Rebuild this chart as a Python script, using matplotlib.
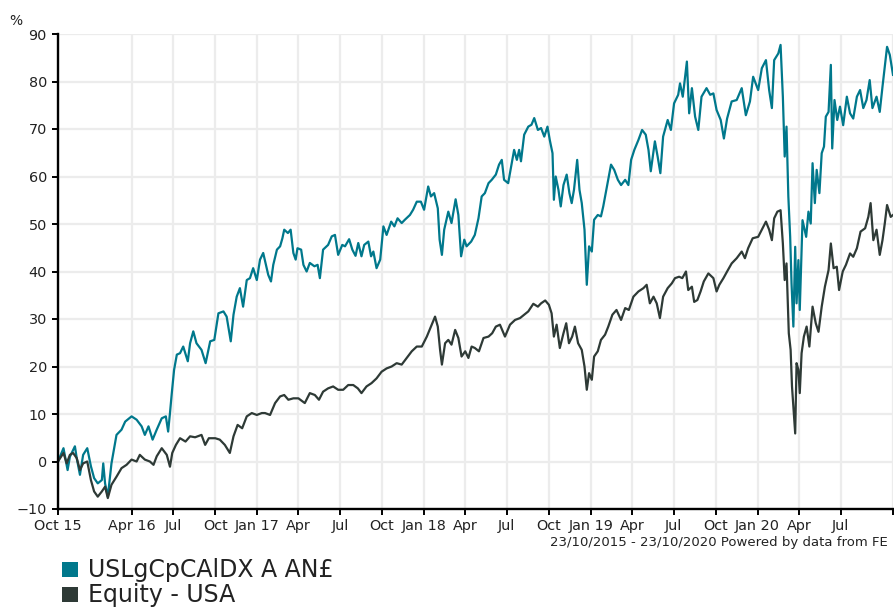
import numpy as np
import matplotlib
matplotlib.use('Agg')
import matplotlib.pyplot as plt
import matplotlib.dates as mdates
from matplotlib.patches import Rectangle

# data: days since 23/10/2015 and cumulative % growth
start = np.datetime64('2015-10-23')
end = np.datetime64('2020-10-23')

series_names = ['USLgCpCAlDX A AN£', 'Equity - USA']
series_colors = ['#00788c', '#2e3a36']

fund_days = [0, 12, 21, 26, 37, 41, 48, 55, 64, 72, 79, 87, 96, 99, 103, 109, 117, 128, 139, 147,
             161, 172, 183, 190, 198, 207, 216, 227, 236, 241, 245, 249, 254, 260, 267, 274, 284, 289,
             296, 303, 314, 323, 333, 342, 351, 362, 369, 378, 384, 391, 398, 405, 413, 420, 427, 435,
             442, 449,
             460, 466, 471, 479, 486, 491, 495, 503, 509, 515, 520, 524, 532, 537, 544, 551, 561, 568,
             573, 580, 591, 599, 606, 613, 622, 628, 637, 644, 651, 657, 664, 670, 679, 685, 690, 697,
             705, 712, 719, 729, 736, 743, 752, 759, 770, 777, 785, 794, 801, 810, 816, 823, 831, 835,
             840, 845, 854, 861, 870, 876, 882, 889, 894, 904,
             912, 920, 927, 934, 942, 949, 958, 965, 971, 976, 985, 991, 998, 1004, 1009, 1013, 1020,
             1029, 1036, 1042, 1050, 1057, 1064, 1071, 1076, 1082, 1085, 1089, 1095, 1100, 1106, 1113,
             1119, 1124, 1129, 1136, 1141, 1146, 1152, 1157, 1162, 1168, 1173, 1181, 1188, 1193, 1201,
             1210, 1217, 1225, 1232, 1241, 1248, 1254, 1261, 1270, 1278, 1286, 1292, 1297, 1306, 1312,
             1318, 1324, 1334, 1341, 1348, 1357,
             1361, 1367, 1376, 1381, 1387, 1394, 1401, 1408, 1419, 1427, 1434, 1441, 1450, 1457, 1464,
             1474, 1485, 1496, 1505, 1514, 1521, 1532, 1540, 1549, 1556, 1562, 1567, 1576, 1581, 1586,
             1590, 1594, 1598, 1602, 1605, 1609, 1613, 1616, 1620, 1623, 1629, 1637, 1642, 1647, 1651,
             1656, 1660, 1666, 1671, 1676, 1680, 1686, 1691, 1694, 1699, 1705, 1711, 1718, 1726, 1733,
             1740, 1748, 1755, 1762, 1769, 1776, 1782, 1791, 1798, 1804, 1809, 1814, 1820, 1827]
fund_vals = [0.0, 2.8, -1.8, 1.0, 3.2, 0.7, -2.8, 1.4, 2.8, -1.0, -3.5, -4.6, -3.9, -0.4, -4.6, -7.4,
             -0.4, 5.6, 6.7, 8.4, 9.5, 8.8, 7.4, 5.6, 7.4, 4.6, 6.7, 9.1, 9.5, 6.3, 10.2, 14.4, 19.3,
             22.5, 22.8, 24.2, 21.1, 24.9, 27.4, 24.9, 23.5, 20.7, 25.3, 25.6, 31.2, 31.6, 30.5, 25.3,
             30.9, 34.7, 36.5, 32.6, 38.2, 38.6, 40.7, 38.2, 42.5, 43.9,
             39.3, 37.9, 41.4, 44.6, 45.3, 47.0, 48.8, 48.1, 48.8, 43.9, 42.5, 44.9, 44.6, 41.4, 40.0,
             41.8, 41.1, 41.4, 38.6, 44.6, 45.6, 47.4, 47.7, 43.5, 45.6, 45.3, 46.8, 44.6, 43.3, 46.0,
             43.2, 45.6, 46.3, 43.2, 44.2, 40.7, 42.5, 49.5, 47.7, 50.5, 49.5, 51.2, 50.2, 50.9, 51.9,
             53.0, 54.7, 54.7, 53.0, 57.9, 55.8, 56.5, 53.3, 46.7, 43.5, 48.8, 52.6, 50.2, 55.2, 51.9,
             43.2, 46.7, 45.3, 46.3,
             47.7, 51.2, 55.8, 56.5, 58.6, 59.3, 60.4, 62.5, 63.5, 59.3, 58.6, 61.8, 65.6, 63.5, 65.6,
             63.2, 68.8, 70.5, 70.9, 72.3, 69.8, 70.2, 68.4, 70.5, 67.7, 64.9, 55.1, 60.0, 57.2, 53.7,
             58.2, 60.4, 56.5, 54.4, 57.2, 63.5, 57.2, 54.4, 48.8, 37.2, 45.3, 44.2, 50.9, 51.9, 51.6,
             53.7, 57.9, 62.5, 61.4, 59.3, 58.2, 59.3, 58.2, 63.5, 65.6, 67.7, 69.8, 68.8, 65.6, 61.1,
             67.4, 64.2, 60.7, 68.4, 71.9, 69.8, 75.4, 77.2,
             79.6, 76.8, 84.2, 73.3, 78.6, 72.6, 69.8, 76.8, 78.6, 77.2, 77.5, 74.0, 71.9, 68.0, 72.2,
             75.8, 76.1, 78.6, 72.9, 75.8, 81.0, 78.2, 82.8, 84.5, 78.2, 74.4, 84.5, 85.9, 87.7, 76.8,
             64.2, 70.5, 55.8, 47.3, 37.5, 28.4, 45.2, 33.3, 42.4, 31.9, 50.8, 47.3, 52.6, 50.1, 62.8,
             54.4, 61.4, 56.5, 64.9, 66.3, 72.6, 73.6, 83.5, 65.9, 76.1, 71.9, 74.7, 70.8, 76.8, 73.3,
             72.2, 76.8, 78.2, 74.4, 76.1, 80.3, 74.4, 76.8, 73.6, 78.9, 83.1, 87.3, 85.6, 81.4]

sector_days = [0, 12, 19, 26, 33, 41, 48, 55, 64, 72, 79, 87, 96, 103, 109, 117, 128, 139, 150, 161,
               172, 179, 190, 201, 209, 216, 227, 238, 245, 250, 258, 267, 279, 289, 300, 314, 322,
               330, 344, 354, 365, 376, 384, 393, 403, 413, 424, 435, 446,
               453, 464, 475, 486, 495, 504, 515, 526, 540, 551, 562, 571, 580, 591, 602, 613, 624,
               635, 646, 656, 664, 675, 686, 697, 708, 719, 730, 741, 752, 763, 774, 785, 796, 807,
               816, 825, 831, 836, 840, 847, 854, 861, 869, 876, 883, 891, 898, 905,
               912, 921, 931, 942, 950, 958, 967, 978, 989, 1000, 1011, 1020, 1029, 1040, 1050, 1057,
               1066, 1074, 1080, 1085, 1091, 1098, 1106, 1112, 1118, 1125, 1131, 1138, 1146, 1152,
               1157, 1162, 1168, 1173, 1181, 1188, 1197, 1204, 1213, 1222, 1232, 1241, 1249, 1259,
               1270, 1281, 1288, 1295, 1303, 1310, 1317, 1324, 1334, 1343, 1350, 1359, 1366,
               1374, 1379, 1387, 1392, 1399, 1406, 1413, 1423, 1434, 1441, 1447, 1456, 1464, 1474,
               1485, 1496, 1503, 1510, 1520, 1532, 1540, 1549, 1556, 1562, 1567, 1574, 1581, 1586,
               1590, 1594, 1599, 1603, 1606, 1609, 1613, 1616, 1620, 1623, 1627, 1632, 1638, 1644,
               1651, 1658, 1664, 1671, 1678, 1686, 1691, 1697, 1704, 1709, 1717, 1724, 1733, 1740,
               1748, 1756, 1766, 1773, 1778, 1784, 1791, 1798, 1804, 1809, 1814, 1822, 1827]
sector_vals = [0.0, 1.8, -0.4, 1.4, 1.8, 0.7, -1.8, -0.4, 0.0, -3.9, -6.3, -7.4, -6.3, -5.3, -7.7,
               -4.9, -3.2, -1.4, -0.7, 0.4, 0.0, 1.4, 0.4, 0.0, -0.7, 1.1, 2.8, 1.4, -1.1, 1.8, 3.5,
               4.9, 4.2, 5.3, 5.1, 5.6, 3.5, 4.9, 4.9, 4.6, 3.5, 1.8, 5.3, 7.7, 7.0, 9.5, 10.2, 9.8,
               10.2,
               10.2, 9.8, 12.3, 13.7, 14.0, 13.0, 13.3, 13.3, 12.3, 14.4, 14.0, 13.0, 14.7, 15.4, 15.8,
               15.1, 15.1, 16.1, 16.1, 15.4, 14.4, 15.8, 16.5, 17.5, 18.9, 19.6, 20.0, 20.7, 20.4,
               21.8, 23.2, 24.2, 24.2, 26.3, 28.4, 30.5, 28.4, 23.5, 20.4, 24.9, 25.6, 24.6, 27.7,
               26.0, 22.1, 23.2, 21.8, 24.2,
               23.9, 23.2, 26.0, 26.3, 27.0, 28.4, 28.8, 26.3, 28.8, 29.8, 30.2, 30.9, 31.6, 33.2,
               32.6, 33.3, 33.9, 33.0, 31.2, 26.3, 28.8, 23.9, 27.0, 29.1, 24.9, 26.3, 28.4, 24.9,
               23.5, 20.0, 15.1, 18.6, 17.2, 22.1, 23.2, 25.6, 26.7, 28.4, 30.9, 31.9, 29.8, 32.3,
               31.9, 34.7, 35.8, 36.5, 37.2, 33.3, 34.7, 33.3, 30.2, 34.7, 36.5, 37.5, 38.6, 38.9,
               38.6,
               40.0, 36.1, 36.8, 33.6, 34.0, 35.8, 37.9, 39.6, 38.6, 35.8, 37.2, 38.6, 40.0, 41.7,
               42.8, 44.2, 42.8, 44.9, 47.0, 47.3, 48.8, 50.5, 48.8, 46.6, 51.2, 52.6, 52.9, 45.9,
               38.2, 41.7, 27.0, 23.5, 15.8, 11.5, 5.9, 20.7, 19.3, 14.4, 22.8, 26.3, 28.4, 24.2,
               32.6, 29.1, 27.3, 32.6, 36.8, 40.3, 45.9, 40.7, 41.0, 36.1, 40.0, 41.4, 43.8, 43.1,
               44.9, 48.4, 49.1, 51.5, 54.4, 46.6, 48.8, 43.5, 46.6, 50.1, 54.0, 51.5, 51.9]

tick_dates = ['2015-10-23', '2016-04-01', '2016-07-01', '2016-10-01', '2017-01-01', '2017-04-01',
              '2017-07-01', '2017-10-01', '2018-01-01', '2018-04-01', '2018-07-01', '2018-10-01',
              '2019-01-01', '2019-04-01', '2019-07-01', '2019-10-01', '2020-01-01', '2020-04-01',
              '2020-07-01', '2020-10-23']
tick_labels = ['Oct 15', 'Apr 16', 'Jul', 'Oct', 'Jan 17', 'Apr', 'Jul', 'Oct', 'Jan 18', 'Apr',
               'Jul', 'Oct', 'Jan 19', 'Apr', 'Jul', 'Oct', 'Jan 20', 'Apr', 'Jul', '']
y_ticks = list(range(-10, 91, 10))


def to_num(days):
    return mdates.date2num(start + np.array(days).astype('timedelta64[D]'))


W, H = 894, 607
fig = plt.figure(figsize=(W / 100, H / 100), dpi=100)
ax = fig.add_axes([58 / W, (H - 509) / H, 835 / W, 475 / H])

ax.plot(to_num(fund_days), fund_vals, color=series_colors[0], lw=1.6, zorder=3)
ax.plot(to_num(sector_days), sector_vals, color=series_colors[1], lw=1.6, zorder=3)

ax.set_xlim(mdates.date2num(start), mdates.date2num(end))
ax.set_ylim(-10, 90)
ax.set_yticks(y_ticks)
ax.set_xticks(mdates.date2num(np.array(tick_dates, dtype='datetime64[D]')))
ax.set_xticklabels(tick_labels)

ax.grid(True, color='#ececec', lw=1.6, zorder=0)
ax.set_axisbelow(True)
for s in ['top', 'right']:
    ax.spines[s].set_visible(False)
for s in ['left', 'bottom']:
    ax.spines[s].set_linewidth(1.7)
    ax.spines[s].set_color('black')
    ax.spines[s].set_zorder(4)
ax.tick_params(axis='both', direction='out', length=4, width=1.4, colors='black',
               labelsize=10.4, labelcolor='#222222')
ax.tick_params(axis='y', pad=4)
ax.tick_params(axis='x', pad=3)

fig.text(15.8 / W, (H - 25) / H, '%', fontsize=10, ha='center', va='baseline', color='#222222')
fig.text(888 / W, (H - 546) / H, '23/10/2015 - 23/10/2020 Powered by data from FE',
         fontsize=9.5, ha='right', va='baseline', color='#222222')

# legend: coloured squares with names
rows = [(561.7, 577.3), (586.5, 602.0)]
for name, col, (top, base) in zip(series_names, series_colors, rows):
    fig.patches.append(Rectangle((62 / W, (H - base) / H), 15.5 / W, (base - top) / H,
                                 transform=fig.transFigure, color=col, lw=0))
    fig.text(88 / W, (H - base) / H, name, fontsize=17, ha='left', va='baseline',
             color='#222222')

fig.savefig('out.png', dpi=100)
